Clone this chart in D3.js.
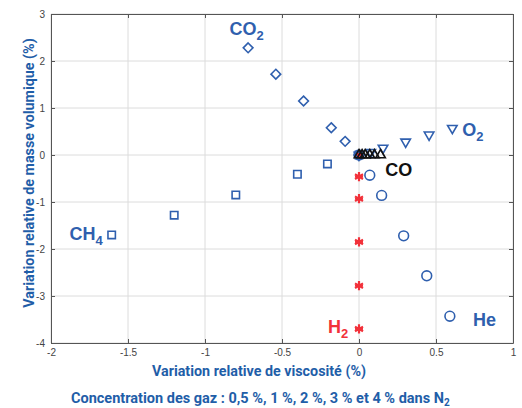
<!DOCTYPE html>
<meta charset="utf-8">
<style>
body { margin: 0; background: #fff; }
svg text { font-family: "Liberation Sans", Arial, sans-serif; }
.grid line { stroke: #dcdcdc; }
.title { font-family: Roboto, sans-serif !important; font-weight: 700; fill: #1f5ea8; }
.lab { font-weight: 700; font-size: 18px; }
</style>
<body>
<div id="chart"></div>
<script src="https://d3js.org/d3.v7.min.js"></script>
<script>
// concentrations 0.5, 1, 2, 3, 4 % in N2 (first point = pure N2 at origin)
var co2X = [0, -0.09, -0.18, -0.36, -0.54, -0.72];
var co2Y = [0, 0.29, 0.58, 1.15, 1.72, 2.28];
var ch4X = [0, -0.205, -0.40, -0.80, -1.20, -1.606];
var ch4Y = [0, -0.19, -0.41, -0.85, -1.28, -1.70];
var h2X = [0, 0, 0, 0, 0, 0];
var h2Y = [0, -0.46, -0.93, -1.85, -2.78, -3.70];
var heX = [0, 0.07, 0.147, 0.29, 0.44, 0.59];
var heY = [0, -0.43, -0.86, -1.72, -2.57, -3.43];
var o2X = [0, 0.076, 0.156, 0.303, 0.455, 0.606];
var o2Y = [0, 0.06, 0.15, 0.28, 0.43, 0.57];
var coX = [0, 0.02, 0.04, 0.07, 0.10, 0.14];
var coY = [0, 0, 0, 0, 0, 0];
var xTicks = [-2, -1.5, -1, -0.5, 0, 0.5, 1];
var yTicks = [-4, -3, -2, -1, 0, 1, 2, 3];

var width = 522, height = 408;
var blue = "#2f5fae", red = "#f2313a";

var x = d3.scaleLinear().domain([-2, 1]).range([51, 513]);
var y = d3.scaleLinear().domain([-4, 3]).range([343, 14]);

var svg = d3.select("#chart").append("svg")
	.attr("width", width)
	.attr("height", height);

// grid
svg.append("g").attr("class", "grid")
	.selectAll("line").data(xTicks).enter().append("line")
	.attr("x1", d => x(d)).attr("x2", d => x(d))
	.attr("y1", y(-4)).attr("y2", y(3));
svg.append("g").attr("class", "grid")
	.selectAll("line").data(yTicks).enter().append("line")
	.attr("y1", d => y(d)).attr("y2", d => y(d))
	.attr("x1", x(-2)).attr("x2", x(1));

// axes with inward ticks
var fmt = d => String(d);
function styleAxis(g) {
	g.select(".domain").attr("stroke", "#555");
	g.selectAll(".tick line").attr("stroke", "#555");
}
svg.append("g").attr("transform", "translate(0," + y(-4) + ")")
	.call(d3.axisBottom(x).tickValues(xTicks).tickFormat(fmt).tickSize(-4).tickPadding(6).tickSizeOuter(0))
	.call(styleAxis);
svg.append("g").attr("transform", "translate(0," + y(3) + ")")
	.call(d3.axisTop(x).tickValues(xTicks).tickSize(-4).tickSizeOuter(0).tickFormat(""))
	.call(styleAxis);
svg.append("g").attr("transform", "translate(" + x(-2) + ",0)")
	.call(d3.axisLeft(y).tickValues(yTicks).tickFormat(fmt).tickSize(-4).tickPadding(6).tickSizeOuter(0))
	.call(styleAxis);
svg.append("g").attr("transform", "translate(" + x(1) + ",0)")
	.call(d3.axisRight(y).tickValues(yTicks).tickSize(-4).tickSizeOuter(0).tickFormat(""))
	.call(styleAxis);
svg.selectAll(".tick text").style("font-family", "Liberation Sans, Arial, sans-serif").attr("font-size", 10).attr("fill", "#444");

// series (H2 first so the blue markers cover the origin)
var series = [
	{ xs: h2X, ys: h2Y, sym: d3.symbolAsterisk, size: 60, color: red },
	{ xs: co2X, ys: co2Y, sym: d3.symbolDiamond2, size: 60, color: blue },
	{ xs: ch4X, ys: ch4Y, sym: d3.symbolSquare2, size: 70, color: blue },
	{ xs: heX, ys: heY, sym: d3.symbolCircle, size: 75, color: blue },
	{ xs: o2X, ys: o2Y, sym: d3.symbolTriangle2, size: 65, color: blue, rot: 180 },
	{ xs: coX, ys: coY, sym: d3.symbolTriangle2, size: 65, color: "#111" }
];

series.forEach(function(s) {
	var pts = s.xs.map((v, i) => [v, s.ys[i]]);
	var g = svg.append("g");
	g.selectAll("path").data(pts).enter().append("path")
		.attr("d", d3.symbol().type(s.sym).size(s.size))
		.attr("transform", d => "translate(" + x(d[0]) + "," + y(d[1]) + ")" + (s.rot ? " rotate(" + s.rot + ")" : ""))
		.attr("fill", "none")
		.attr("stroke", s.color)
		.attr("stroke-width", s.sym === d3.symbolAsterisk ? 2.2 : 1.6);
	if (s.sym === d3.symbolAsterisk) {
		// extra horizontal bar, like a matlab '*' marker
		g.selectAll("line").data(pts).enter().append("line")
			.attr("x1", d => x(d[0]) - 4).attr("x2", d => x(d[0]) + 4)
			.attr("y1", d => y(d[1])).attr("y2", d => y(d[1]))
			.attr("stroke", s.color).attr("stroke-width", 2);
	}
});

// gas labels
var labels = [
	{ main: "CO", sub: "2", lx: -0.73, ly: 2.56, anchor: "middle", color: blue },
	{ main: "O", sub: "2", lx: 0.67, ly: 0.40, anchor: "start", color: blue },
	{ main: "CO", sub: "", lx: 0.17, ly: -0.45, anchor: "start", color: "#111" },
	{ main: "CH", sub: "4", lx: -1.88, ly: -1.81, anchor: "start", color: blue },
	{ main: "H", sub: "2", lx: -0.07, ly: -3.79, anchor: "end", color: red },
	{ main: "He", sub: "", lx: 0.74, ly: -3.64, anchor: "start", color: blue }
];
labels.forEach(function(l) {
	var t = svg.append("text").attr("class", "lab")
		.attr("x", x(l.lx)).attr("y", y(l.ly))
		.attr("text-anchor", l.anchor)
		.attr("fill", l.color);
	t.append("tspan").text(l.main);
	if (l.sub) t.append("tspan").attr("dy", 5).attr("font-size", 13).text(l.sub);
});

// titles
svg.append("text").attr("class", "title")
	.attr("x", 259).attr("y", 376)
	.attr("text-anchor", "middle").attr("font-size", 14.3)
	.text("Variation relative de viscosité (%)");
svg.append("text").attr("class", "title")
	.attr("transform", "translate(34,173) rotate(-90)")
	.attr("text-anchor", "middle").attr("font-size", 14.3)
	.text("Variation relative de masse volumique (%)");
var cap = svg.append("text").attr("class", "title")
	.attr("x", 71).attr("y", 403)
	.attr("font-size", 14.5);
cap.append("tspan").text("Concentration des gaz : 0,5 %, 1 %, 2 %, 3 % et 4 % dans N");
cap.append("tspan").attr("dy", 3).attr("font-size", 10).text("2");
</script>
</body>
